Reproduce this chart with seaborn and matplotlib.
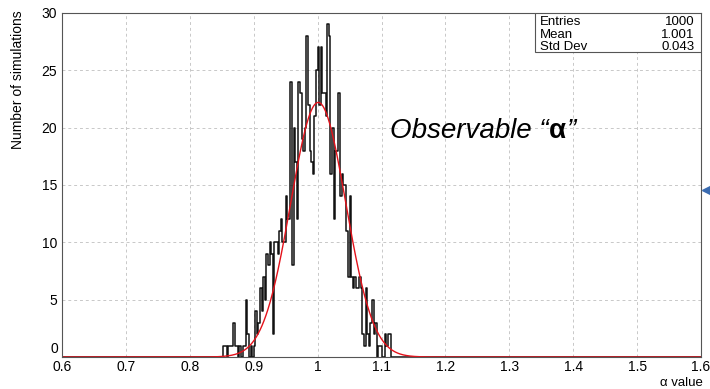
import matplotlib
matplotlib.use("Agg")
import matplotlib.pyplot as plt
import matplotlib.ticker as mticker
from matplotlib.patches import Rectangle
import numpy as np
import seaborn as sns

# histogram: 400 bins over [0.6, 1.6], width 0.0025
hist_range = (0.6, 1.6)
n_bins = 400
first_edge = 0.8525
bin_width = 0.0025
counts = [
    1, 1, 0, 1, 1, 1, 3, 1, 1, 0, 1, 0, 1, 1, 5, 2, 0, 1, 0, 1,
    4, 2, 3, 6, 4, 7, 5, 9, 8, 10, 9,
    2, 10, 10, 9, 11, 12, 10, 10, 14, 12, 12, 24, 8, 20, 17, 12, 24, 23, 19,
    18, 20, 28, 22, 18, 17, 16, 21, 25, 27, 22, 27, 23, 23, 21,
    29, 28, 16, 20, 12, 18, 18, 23, 14, 16, 15, 15, 11, 7, 14, 7, 6, 7, 6,
    6, 7, 6, 2, 1, 6, 2, 1, 3, 5, 2, 3, 0, 1, 1, 0, 0, 2, 1, 2, 2,
]
centers = first_edge + bin_width * (np.arange(len(counts)) + 0.5)

# gaussian fit parameters (red curve)
fit_amp = 22.2
fit_mean = 1.001
fit_sigma = 0.043

stats_labels = ["Entries", "Mean", "Std Dev"]
stats_values = ["1000", "1.001", "0.043"]

sns.set_style("white")
plt.rcParams['font.family'] = ['Liberation Sans', 'DejaVu Sans']
plt.rcParams['text.color'] = 'black'
plt.rcParams['xtick.labelcolor'] = 'black'
plt.rcParams['ytick.labelcolor'] = 'black'

fig = plt.figure(figsize=(7.1, 3.89), dpi=100)
ax = fig.add_axes([62/710, 1-357/389, 639/710, 344/389])

sns.histplot(x=centers, weights=counts, bins=n_bins, binrange=hist_range,
             element="step", fill=False, color="#111111", linewidth=1.1, ax=ax)

fx = np.linspace(hist_range[0], hist_range[1], 1001)
fy = fit_amp * np.exp(-0.5 * ((fx - fit_mean) / fit_sigma) ** 2)
sns.lineplot(x=fx, y=fy, color="#e4121b", linewidth=1.0, ax=ax)

ax.set_xlim(*hist_range)
ax.set_ylim(0, 30)
ax.xaxis.set_major_locator(mticker.MultipleLocator(0.1))
ax.xaxis.set_minor_locator(mticker.MultipleLocator(0.02))
ax.yaxis.set_major_locator(mticker.MultipleLocator(5))
ax.yaxis.set_minor_locator(mticker.MultipleLocator(1))
ax.xaxis.set_major_formatter(mticker.FormatStrFormatter('%g'))
# the "0" label is drawn separately, a bit raised like ROOT does
ax.yaxis.set_major_formatter(mticker.FuncFormatter(lambda v, p: '' if v == 0 else '%g' % v))
ax.tick_params(which='major', direction='in', length=7, width=0.8, labelsize=10, color='#444444')
ax.tick_params(which='minor', direction='in', length=3.5, width=0.8, color='#444444')
ax.tick_params(axis='x', pad=2)
ax.grid(True, which='major', color='#c8c8c8', linestyle=(0, (3, 3)), linewidth=0.7)
for s in ax.spines.values():
    s.set_color('#555555')
    s.set_linewidth(0.8)

ax.text(-0.0055, 0.022, "0", transform=ax.transAxes, ha='right', va='center', fontsize=10)

ax.set_xlabel("")
ax.set_ylabel("")
fig.text(703/710, 1-383/389, "α value", ha='right', va='center', fontsize=9.5)
fig.text(18/710, 1-10/389, "Number of simulations", rotation=90, ha='center', va='top', fontsize=10)

# stats box
ax.add_patch(Rectangle((0.740, 0.886), 0.26, 0.114, transform=ax.transAxes,
                       facecolor='white', edgecolor='#555555', linewidth=0.8, zorder=5))
for i, (lab, val) in enumerate(zip(stats_labels, stats_values)):
    y = 0.973 - i * 0.036
    ax.text(0.748, y, lab, transform=ax.transAxes, ha='left', va='center', fontsize=9.5, zorder=6)
    ax.text(0.990, y, val, transform=ax.transAxes, ha='right', va='center', fontsize=9.5, zorder=6)

# annotation
t1 = fig.text(390/710, 1-138/389, "Observable “", fontsize=20, style='italic', ha='left', va='baseline')
t2 = ax.annotate("α", xy=(1, 0), xycoords=t1, fontsize=20, fontweight='bold', ha='left', va='bottom')
ax.annotate("”", xy=(1, 0), xycoords=t2, fontsize=20, style='italic', ha='left', va='bottom')

# small blue marker at right edge
fig.lines.append(plt.Line2D([706/710], [1-190/389], marker='<', color='#3a6bb0', markersize=6,
                            transform=fig.transFigure))

fig.savefig("out.png", dpi=100)
